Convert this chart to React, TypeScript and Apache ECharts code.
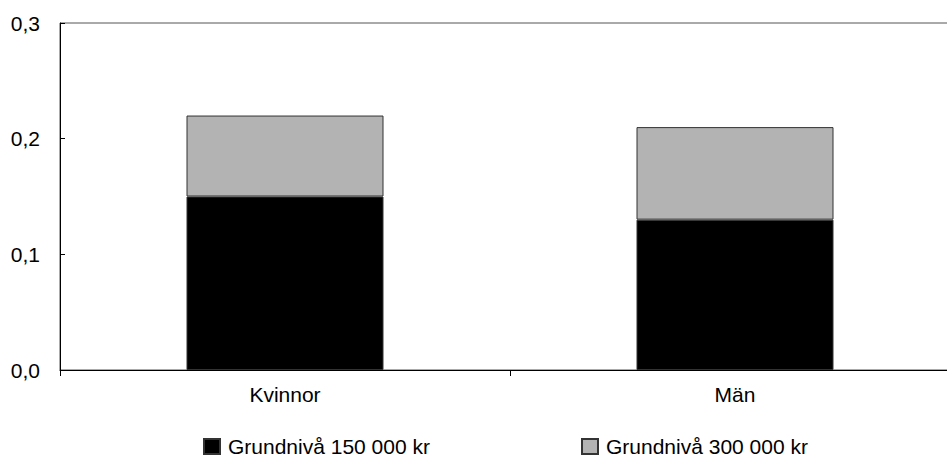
import React, { useEffect, useRef } from "react";
import * as echarts from "echarts";

const categories = ["Kvinnor", "Män"];
const seriesNames = ["Grundnivå 150 000 kr", "Grundnivå 300 000 kr"];
const base150 = [0.15, 0.13];
const extra300 = [0.07, 0.08];
const yTicks = { min: 0, max: 0.3, interval: 0.1 };

export default function App() {
  const ref = useRef<HTMLDivElement>(null);
  useEffect(() => {
    if (!ref.current) return;
    const chart = echarts.init(ref.current, null, { renderer: "svg" });
    const font = "Liberation Sans, Arial, sans-serif";
    const legendText = { fontSize: 21, color: "#000", fontFamily: font, padding: [0, 0, 0, 3] };
    chart.setOption({
      animation: false,
      backgroundColor: "#ffffff",
      textStyle: { fontFamily: font },
      grid: {
        left: 60,
        top: 23,
        bottom: 89,
        width: 900,
        show: true,
        borderColor: "#555555",
        borderWidth: 1,
        containLabel: false,
        outerBoundsMode: "none",
      },
      legend: [
        {
          left: 203,
          top: 436,
          itemWidth: 16,
          itemHeight: 15,
          icon: "rect",
          data: [seriesNames[0]],
          textStyle: legendText,
          padding: 0,
        },
        {
          left: 581,
          top: 436,
          itemWidth: 16,
          itemHeight: 15,
          icon: "rect",
          data: [seriesNames[1]],
          textStyle: legendText,
          padding: 0,
        },
      ],
      xAxis: {
        type: "category",
        data: categories,
        axisLine: { lineStyle: { color: "#000", width: 1 } },
        axisTick: { show: true, inside: false, length: 6, lineStyle: { color: "#000" } },
        axisLabel: { fontSize: 21, color: "#000", margin: 14, fontFamily: font },
        splitLine: { show: false },
      },
      yAxis: {
        type: "value",
        min: yTicks.min,
        max: yTicks.max,
        interval: yTicks.interval,
        axisLine: { show: true, lineStyle: { color: "#000", width: 1 } },
        axisTick: { show: true, inside: true, length: 5, lineStyle: { color: "#000" } },
        axisLabel: {
          fontSize: 21,
          color: "#000",
          margin: 20,
          fontFamily: font,
          formatter: (v: number) => v.toFixed(1).replace(".", ","),
        },
        splitLine: { show: false },
      },
      series: [
        {
          name: seriesNames[0],
          type: "bar",
          stack: "total",
          data: base150,
          barWidth: 197,
          itemStyle: { color: "#000000", borderColor: "#333333", borderWidth: 1 },
        },
        {
          name: seriesNames[1],
          type: "bar",
          stack: "total",
          data: extra300,
          barWidth: 197,
          itemStyle: { color: "#b3b3b3", borderColor: "#333333", borderWidth: 1 },
        },
      ],
    });
    return () => chart.dispose();
  }, []);
  return (
    <div
      ref={ref}
      style={{ position: "absolute", left: 0, top: 0, width: 947, height: 459 }}
    />
  );
}
